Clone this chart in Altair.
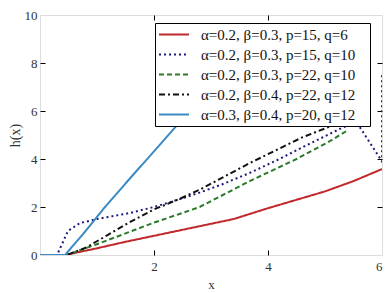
import altair as alt
import pandas as pd

labels = [
    "α=0.2, β=0.3, p=15, q=6",
    "α=0.2, β=0.3, p=15, q=10",
    "α=0.2, β=0.3, p=22, q=10",
    "α=0.2, β=0.4, p=22, q=12",
    "α=0.3, β=0.4, p=20, q=12",
]
colors = ["#c0282c", "#1c1c7a", "#2a7a2a", "#111111", "#3a8ac4"]
dashes = [[1, 0], [2, 3], [5, 3], [6, 3, 2, 3], [1, 0]]

red_x = [0, 0.44, 1.0, 1.5, 2.0, 2.5, 3.0, 3.4, 4.0, 4.5, 5.0, 5.5, 6.0]
red_y = [0, 0, 0.28, 0.55, 0.8, 1.05, 1.3, 1.5, 1.95, 2.3, 2.65, 3.08, 3.58]

navy_x = [0, 0.3, 0.49, 0.7, 1.0, 1.58, 2.0, 2.46, 2.8, 3.2, 3.68, 4.2, 4.7, 5.3, 5.55, 6.0, 6.0]
navy_y = [0, 0, 1.0, 1.33, 1.5, 1.75, 2.0, 2.33, 2.6, 2.95, 3.42, 4.0, 4.6, 5.3, 5.55, 3.9, 7.6]

green_x = [0, 0.47, 1.0, 1.5, 2.0, 2.46, 2.8, 3.68, 4.5, 5.09, 5.4]
green_y = [0, 0, 0.45, 0.9, 1.35, 1.72, 2.0, 3.08, 4.0, 4.75, 5.2]

black_x = [0, 0.47, 0.8, 1.2, 1.6, 2.0, 2.46, 2.8, 3.68, 4.6, 5.3]
black_y = [0, 0, 0.3, 0.85, 1.4, 1.9, 2.35, 2.72, 3.83, 4.9, 5.55]

blue_x = [0, 0.44, 0.8, 1.14, 1.6, 2.16, 2.4, 3.0, 3.4]
blue_y = [0, 0, 1.0, 2.0, 3.25, 4.75, 5.4, 7.0, 8.0]

series = [(red_x, red_y), (navy_x, navy_y), (green_x, green_y), (black_x, black_y), (blue_x, blue_y)]
rows = []
for lab, (xs, ys) in zip(labels, series):
    for i, (xv, yv) in enumerate(zip(xs, ys)):
        rows.append({"x": xv, "y": yv, "s": lab, "o": i})
df = pd.DataFrame(rows)

W, H = 342, 240
FONT = "Liberation Serif"

xs = alt.Scale(domain=[0, 6], nice=False)
ys = alt.Scale(domain=[0, 10], nice=False)

base = alt.Chart(df)

main = base.mark_line(clip=True, strokeWidth=2).encode(
    x=alt.X("x:Q", scale=xs, axis=alt.Axis(values=[2, 4, 6], ticks=False, tickSize=0, domain=False,
                                          grid=False, labelPadding=5, title="x", titlePadding=5,
                                          labelFont=FONT, labelFontSize=13, labelColor="#333",
                                          titleFont=FONT, titleFontSize=13, titleFontWeight="normal",
                                          titleColor="#333")),
    y=alt.Y("y:Q", scale=ys, axis=alt.Axis(values=[0, 2, 4, 6, 8, 10], ticks=False, tickSize=0, domain=False,
                                          grid=False, labelPadding=3, title="h(x)",
                                          titleX=-25, titleY=H / 2, titleAngle=270, titleAlign="center",
                                          titleBaseline="middle",
                                          labelFont=FONT, labelFontSize=13, labelColor="#333",
                                          titleFont=FONT, titleFontSize=14, titleFontWeight="normal",
                                          titleColor="#333")),
    color=alt.Color("s:N", scale=alt.Scale(domain=labels, range=colors),
                    legend=alt.Legend(title=" ", titleOrient="right", titlePadding=12, titleFontSize=2,
                                      orient="none", legendX=115, legendY=8,
                                      fillColor="white", strokeColor="black", padding=3,
                                      labelFont=FONT, labelFontSize=15, labelColor="#111",
                                      labelLimit=400, symbolType="M-1,0L3,0", symbolSize=225,
                                      symbolStrokeWidth=2, rowPadding=3, labelOffset=26)),
    strokeDash=alt.StrokeDash("s:N", scale=alt.Scale(domain=labels, range=dashes), legend=None),
    order="o:Q",
    detail="s:N",
)

def tick_layer(xorient, yorient):
    return base.mark_point(opacity=0).encode(
        x=alt.X("x:Q", scale=xs, axis=alt.Axis(orient=xorient, offset=-H, values=[2, 4], labels=False,
                                              ticks=True, tickSize=5, tickColor="black", domain=False,
                                              grid=False, title=None)),
        y=alt.Y("y:Q", scale=ys, axis=alt.Axis(orient=yorient, offset=-W, values=[2, 4, 6, 8], labels=False,
                                              ticks=True, tickSize=5, tickColor="black", domain=False,
                                              grid=False, title=None)),
    )

chart = alt.layer(main, tick_layer("top", "right"), tick_layer("bottom", "left")).resolve_axis(
    x="independent", y="independent"
).properties(
    width=W, height=H,
    autosize=alt.AutoSizeParams(type="none"),
    padding={"left": 32, "top": 7, "right": 2, "bottom": 38},
).configure_view(stroke="black", strokeWidth=1.2).configure(background="white")

chart.save("out.html", embed_options={"renderer": "svg", "actions": False})
